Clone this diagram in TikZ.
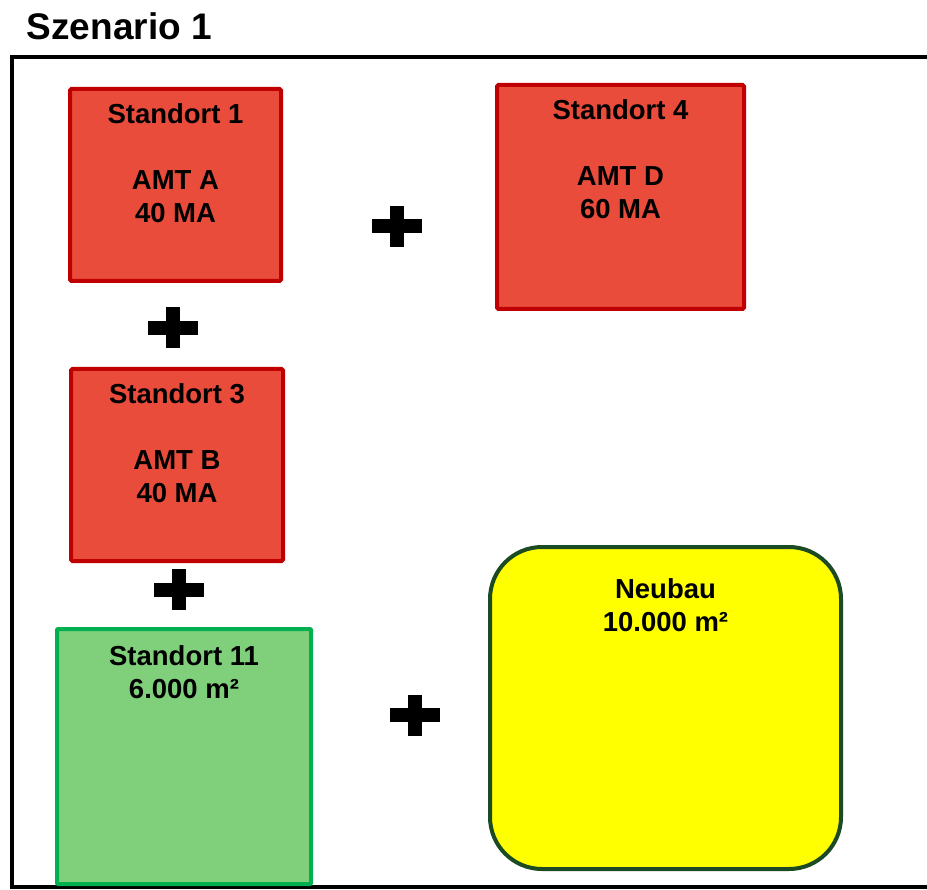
\documentclass[tikz,border=0pt]{standalone}
\usepackage{fontspec}
\setmainfont{Liberation Sans}
\definecolor{redfill}{HTML}{EA4C3B}
\definecolor{redline}{HTML}{C00000}
\definecolor{greenfill}{HTML}{80D07B}
\definecolor{greenline}{HTML}{00B050}
\definecolor{yellowfill}{HTML}{FFFF00}
\definecolor{darkline}{HTML}{1C4A22}
\begin{document}
\begin{tikzpicture}[x=1pt,y=-1pt,
  redbox/.style={draw=redline, fill=redfill, line width=4pt, rounded corners=1.5pt, inner sep=0pt},
  greenbox/.style={draw=greenline, fill=greenfill, line width=4pt, rounded corners=1pt, inner sep=0pt},
  yellowbox/.style={draw=darkline, fill=yellowfill, line width=4pt, rounded corners=52pt, inner sep=0pt},
  boxtext/.style={anchor=base, inner sep=0pt, font=\fontsize{27.5}{33}\selectfont\bfseries},
  plussign/.pic={\fill[black] (-25,-7) rectangle (25,7); \fill[black] (-7,-20.5) rectangle (7,20.5);}
]
\useasboundingbox (0,0) rectangle (927,890);
% title
\node[anchor=base west, inner sep=0pt, font=\fontsize{37}{44}\selectfont\bfseries] (title) at (26.5,40) {Szenario 1};
% frame (open to the right)
\draw[line width=4pt] (927,57) -- (11.5,57) -- (11.5,887) -- (927,887);
% boxes
\node[redbox, minimum width=211pt, minimum height=192pt] (s1) at (175.5,185) {};
\node[redbox, minimum width=247pt, minimum height=224pt] (s4) at (620.5,197) {};
\node[redbox, minimum width=212pt, minimum height=192pt] (s3) at (177,465) {};
\node[greenbox, minimum width=254pt, minimum height=255pt] (s11) at (184,756.5) {};
\node[yellowbox, minimum width=351pt, minimum height=322pt] (nb) at (665.5,708) {};
% texts
\node[boxtext] (t1) at (s1.north |- 0,124) {\begin{tabular}[t]{@{}c@{}}Standort 1\\ \\ AMT A\\ 40 MA\end{tabular}};
\node[boxtext] (t4) at (s4.north |- 0,120) {\begin{tabular}[t]{@{}c@{}}Standort 4\\ \\ AMT D\\ 60 MA\end{tabular}};
\node[boxtext] (t3) at (s3.north |- 0,404) {\begin{tabular}[t]{@{}c@{}}Standort 3\\ \\ AMT B\\ 40 MA\end{tabular}};
\node[boxtext] (t11) at (s11.north |- 0,665) {\begin{tabular}[t]{@{}c@{}}Standort 11\\ 6.000 m²\end{tabular}};
\node[boxtext] (tnb) at (nb.north |- 0,598) {\begin{tabular}[t]{@{}c@{}}Neubau\\ 10.000 m²\end{tabular}};
% plus signs
\pic (p1) at (397,226.5) {plussign};
\pic (p2) at (172.5,328) {plussign};
\pic (p3) at (179,589.5) {plussign};
\pic (p4) at (414.5,715) {plussign};
\end{tikzpicture}
\end{document}
